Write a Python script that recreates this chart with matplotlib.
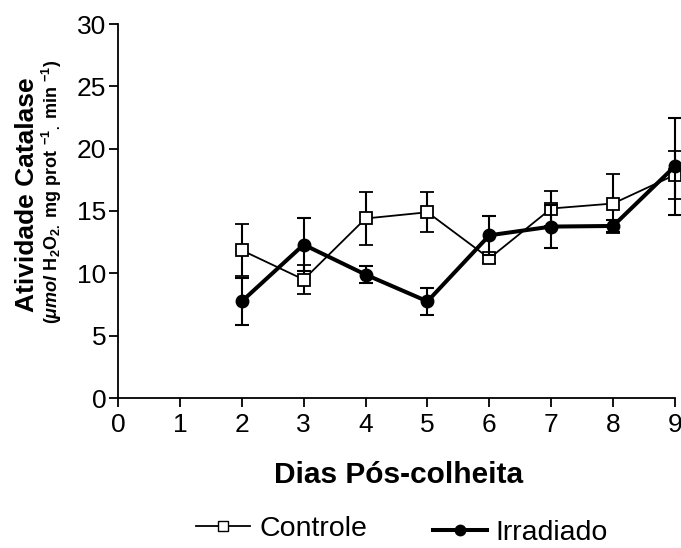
import matplotlib
matplotlib.use("Agg")
import matplotlib.pyplot as plt
from matplotlib.lines import Line2D

plt.rcParams['font.family'] = ['Liberation Sans', 'DejaVu Sans']
plt.rcParams['mathtext.fontset'] = 'custom'
plt.rcParams['mathtext.rm'] = 'Liberation Sans:bold'
plt.rcParams['mathtext.bf'] = 'Liberation Sans:bold'
plt.rcParams['mathtext.it'] = 'Liberation Sans:italic:bold'

days = [2, 3, 4, 5, 6, 7, 8, 9]
controle = [11.85, 9.5, 14.4, 14.9, 11.2, 15.2, 15.6, 17.9]
controle_err = [2.1, 1.15, 2.1, 1.6, 0.4, 1.4, 2.4, 1.9]
irradiado = [7.75, 12.3, 9.9, 7.75, 13.05, 13.75, 13.8, 18.6]
irradiado_err = [1.9, 2.1, 0.7, 1.1, 1.55, 1.7, 0.5, 3.9]

xticks = list(range(0, 10))
yticks = [0, 5, 10, 15, 20, 25, 30]

W, H = 681, 548
fig = plt.figure(figsize=(W/100, H/100), dpi=100)
ax = fig.add_axes([118/W, 1-398/H, (675-118)/W, (398-24)/H])

ax.errorbar(days, controle, yerr=controle_err, color='black', lw=1.3,
            marker='s', markersize=9, markerfacecolor='white', markeredgecolor='black',
            markeredgewidth=1.3, elinewidth=1.5, capsize=4.7, capthick=1.5,
            clip_on=False, zorder=3)
ax.errorbar(days, irradiado, yerr=irradiado_err, color='black', lw=2.9,
            marker='o', markersize=9, markerfacecolor='black', markeredgecolor='black',
            elinewidth=1.5, capsize=4.7, capthick=1.5, clip_on=False, zorder=4)

ax.set_xlim(0, 9)
ax.set_ylim(0, 30)
ax.set_xticks(xticks)
ax.set_yticks(yticks)
for s in ['top', 'right']:
    ax.spines[s].set_visible(False)
for s in ['left', 'bottom']:
    ax.spines[s].set_linewidth(1.3)
ax.tick_params(direction='out', length=6.5, width=1.3, labelsize=19)
ax.tick_params(axis='y', pad=2)
ax.tick_params(axis='x', pad=4)

fig.text(399/W, 1-483/H, 'Dias Pós-colheita', ha='center', va='baseline',
         fontsize=21.5, fontweight='bold')

fig.text(27/W, 1-195/H, 'Atividade Catalase', rotation=90, ha='center', va='center',
         fontsize=19, fontweight='bold')
fig.text(52/W, 1-192/H,
         r'($\mathit{\mu mol}$ H$_2$O$_{2.}$ mg prot $^{-1}$$_{.}$ min $^{-1}$)',
         rotation=90, ha='center', va='center', fontsize=13, fontweight='bold')

h1 = Line2D([], [], color='black', lw=1.3, marker='s', markersize=7.5,
            markerfacecolor='white', markeredgecolor='black')
h2 = Line2D([], [], color='black', lw=2.9, marker='o', markersize=7.5,
            markerfacecolor='black')
fig.legend([h1], ['Controle'], loc='center left', bbox_to_anchor=(196/W, 1-529/H),
           frameon=False, fontsize=20.5, handlelength=1.9, handletextpad=0.34,
           borderpad=0, borderaxespad=0)
fig.legend([h2], ['Irradiado'], loc='center left', bbox_to_anchor=(433/W, 1-533/H),
           frameon=False, fontsize=20.5, handlelength=1.9, handletextpad=0.3,
           borderpad=0, borderaxespad=0)

fig.savefig('out.png', dpi=100)
